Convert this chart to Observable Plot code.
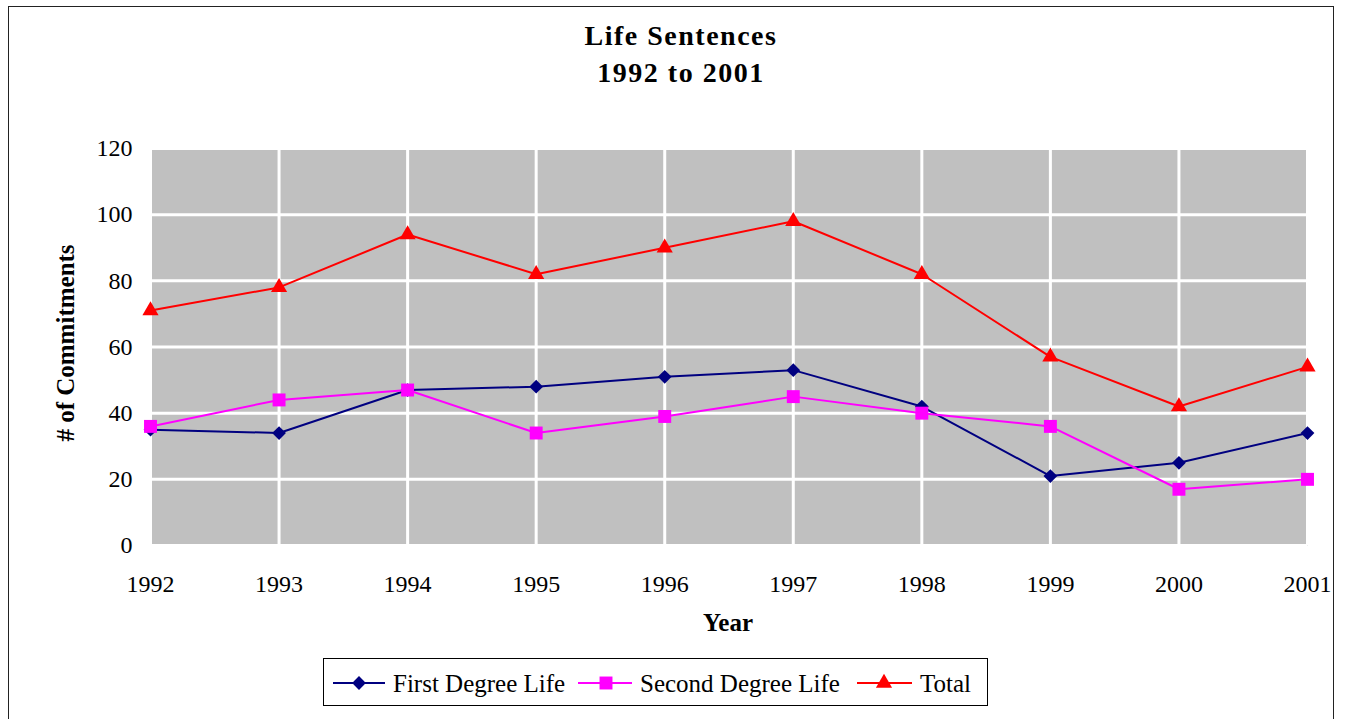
<!DOCTYPE html>
<html>
<head>
<meta charset="utf-8">
<script src="https://cdn.jsdelivr.net/npm/d3@7"></script>
<script src="https://cdn.jsdelivr.net/npm/@observablehq/plot@0.6"></script>
<style>
  html, body { margin: 0; padding: 0; background: #fff; }
  #wrap { position: relative; width: 1348px; height: 719px; overflow: hidden; font-family: "Liberation Serif", "Times New Roman", serif; color: #000; }
  #border { position: absolute; left: 8px; top: 6px; width: 1326px; height: 800px; border: 1.5px solid #222; box-sizing: border-box; }
  #title { position: absolute; left: 0; width: 1362px; top: 17px; text-align: center; font-weight: bold; font-size: 28px; line-height: 37px; letter-spacing: 1.5px; }
  #chart { position: absolute; left: 0; top: 0; }
  #ylabel { position: absolute; left: -84px; top: 330px; width: 300px; text-align: center; font-weight: bold; font-size: 25px; line-height: 26px; transform: rotate(-90deg); transform-origin: 150px 13px; }
  #xlabel { position: absolute; left: 578px; width: 300px; top: 610px; text-align: center; font-weight: bold; font-size: 25px; line-height: 26px; }
  #legend { position: absolute; left: 323px; top: 658px; width: 665px; height: 48px; border: 1px solid #000; box-sizing: border-box; background: #fff; }
  #legend svg { position: absolute; left: -1px; top: -1px; }
</style>
</head>
<body>
<div id="wrap">
  <div id="border"></div>
  <div id="chart"></div>
  <div id="title">Life Sentences<br>1992 to 2001</div>
  <div id="ylabel"># of Commitments</div>
  <div id="xlabel">Year</div>
  <div id="legend"></div>
</div>
<script>
// ---- data ----
const years = [1992, 1993, 1994, 1995, 1996, 1997, 1998, 1999, 2000, 2001];
const firstDegree = [35, 34, 47, 48, 51, 53, 42, 21, 25, 34];
const secondDegree = [36, 44, 47, 34, 39, 45, 40, 36, 17, 20];
const totalLife = [71, 78, 94, 82, 90, 98, 82, 57, 42, 54];
const seriesNames = ["First Degree Life", "Second Degree Life", "Total"];
const seriesColors = ["#000080", "#FF00FF", "#FF0000"];
const seriesSymbols = ["diamond2", "square", "triangle"];
const seriesRadius = [6.2, 7.3, 6];
const yTicks = [0, 20, 40, 60, 80, 100, 120];

const seriesValues = [firstDegree, secondDegree, totalLife];
const series = seriesNames.map((name, i) => ({
  name,
  color: seriesColors[i],
  symbol: seriesSymbols[i],
  r: seriesRadius[i],
  data: years.map((year, j) => ({ year, value: seriesValues[i][j], series: name }))
}));

const chart = Plot.plot({
  width: 1348,
  height: 650,
  marginLeft: 150,
  marginRight: 41,
  marginTop: 148,
  marginBottom: 105,
  style: { fontFamily: "'Liberation Serif', 'Times New Roman', serif", fontSize: "24px", background: "transparent", color: "#000" },
  x: { domain: [1992, 2001], label: null },
  y: { domain: [0, 120], label: null },
  marks: [
    Plot.frame({ fill: "#C0C0C0", stroke: "none" }),
    Plot.gridX({ ticks: years, stroke: "#fff", strokeOpacity: 1, strokeWidth: 3 }),
    Plot.gridY({ ticks: yTicks, stroke: "#fff", strokeOpacity: 1, strokeWidth: 3 }),
    Plot.axisX({ ticks: years, tickFormat: d => String(d), tickSize: 0, tickPadding: 29, label: null }),
    Plot.axisY({ ticks: yTicks, tickSize: 0, tickPadding: 18, label: null }),
    ...series.flatMap(s => [
      Plot.line(s.data, { x: "year", y: "value", stroke: s.color, strokeWidth: 2 }),
      Plot.dot(s.data, { x: "year", y: "value", symbol: s.symbol, fill: s.color, stroke: "none", r: s.r })
    ])
  ]
});
document.getElementById("chart").appendChild(chart);

// ---- legend ----
const symbolMap = { diamond2: d3.symbolDiamond2, square: d3.symbolSquare, triangle: d3.symbolTriangle };
const legendLayout = [
  { x0: 10, x1: 62, mx: 36, tx: 70 },
  { x0: 255, x1: 309, mx: 283, tx: 317 },
  { x0: 534, x1: 589, mx: 561, tx: 597 }
];
const lsvg = d3.select("#legend").append("svg").attr("width", 665).attr("height", 48);
series.forEach((s, i) => {
  const L = legendLayout[i];
  const g = lsvg.append("g");
  g.append("line").attr("x1", L.x0).attr("x2", L.x1).attr("y1", 25).attr("y2", 25)
    .attr("stroke", s.color).attr("stroke-width", 2);
  g.append("path").attr("d", d3.symbol(symbolMap[s.symbol], Math.PI * s.r * s.r)())
    .attr("transform", `translate(${L.mx},25)`).attr("fill", s.color);
  g.append("text").attr("x", L.tx).attr("y", 34).text(s.name)
    .attr("font-family", "'Liberation Serif', 'Times New Roman', serif").attr("font-size", 25);
});
</script>
</body>
</html>
